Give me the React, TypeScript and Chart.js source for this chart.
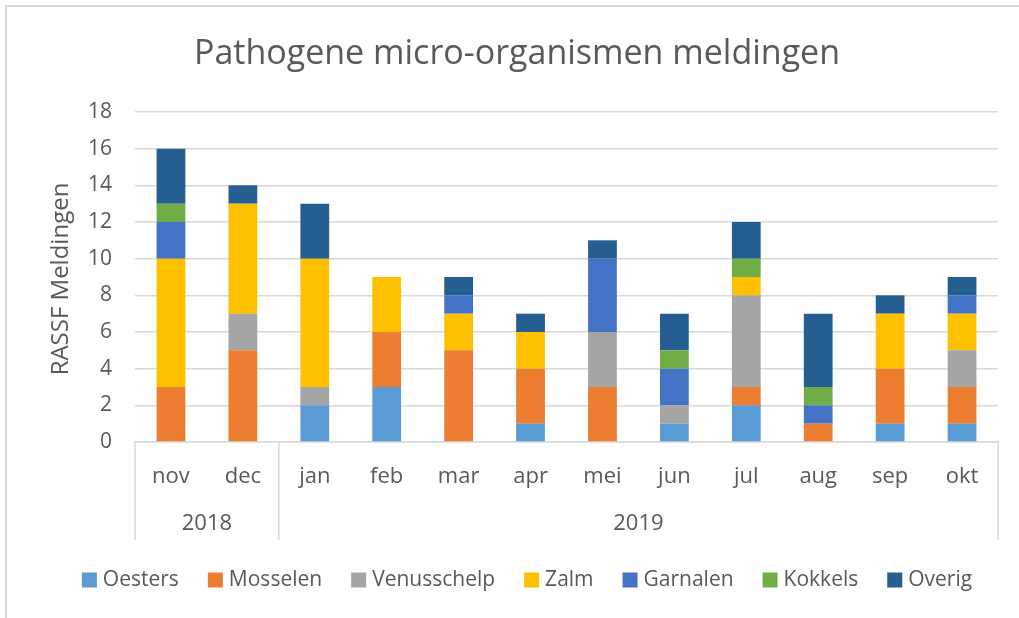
import React, { useEffect, useRef } from "react";
import { Chart, registerables } from "chart.js";

Chart.register(...registerables);

const chartTitle = "Pathogene micro-organismen meldingen";
const yAxisTitle = "RASSF Meldingen";
const months = ["nov", "dec", "jan", "feb", "mar", "apr", "mei", "jun", "jul", "aug", "sep", "okt"];
const years = ["2018", "2019"];
const yearSpans = [2, 10];
const yTicksMax = 18;
const yTickStep = 2;

const seriesNames = ["Oesters", "Mosselen", "Venusschelp", "Zalm", "Garnalen", "Kokkels", "Overig"];
const seriesColors = ["#5B9BD5", "#ED7D31", "#A5A5A5", "#FFC000", "#4472C4", "#70AD47", "#255E91"];

const oesters = [0, 0, 2, 3, 0, 1, 0, 1, 2, 0, 1, 1];
const mosselen = [3, 5, 0, 3, 5, 3, 3, 0, 1, 1, 3, 2];
const venusschelp = [0, 2, 1, 0, 0, 0, 3, 1, 5, 0, 0, 2];
const zalm = [7, 6, 7, 3, 2, 2, 0, 0, 1, 0, 3, 2];
const garnalen = [2, 0, 0, 0, 1, 0, 4, 2, 0, 1, 0, 1];
const kokkels = [1, 0, 0, 0, 0, 0, 0, 1, 1, 1, 0, 0];
const overig = [3, 1, 3, 0, 1, 1, 1, 2, 2, 4, 1, 1];

const seriesValues = [oesters, mosselen, venusschelp, zalm, garnalen, kokkels, overig];

const FONT = "'Open Sans', sans-serif";
const TEXT = "#595959";
const GRID = "#D9D9D9";

const decorPlugin = {
  id: "decor",
  afterDraw(chart: any) {
    const ctx = chart.ctx as CanvasRenderingContext2D;
    const x = chart.scales.x;
    ctx.save();

    // outer frame
    ctx.strokeStyle = GRID;
    ctx.lineWidth = 2;
    ctx.beginPath();
    ctx.moveTo(6, 700);
    ctx.lineTo(6, 6);
    ctx.lineTo(1100, 6);
    ctx.stroke();

    // title
    ctx.fillStyle = TEXT;
    ctx.font = `34px ${FONT}`;
    ctx.textAlign = "center";
    ctx.textBaseline = "middle";
    ctx.fillText(chartTitle, 517, 54);

    // y-axis title
    ctx.save();
    ctx.translate(61, 279);
    ctx.rotate(-Math.PI / 2);
    ctx.font = `24px ${FONT}`;
    ctx.fillText(yAxisTitle, 0, 0);
    ctx.restore();

    // group separators and year labels
    const n = months.length;
    const boundary = (i: number) => {
      if (i <= 0) return x.left;
      if (i >= n) return x.right;
      return (x.getPixelForValue(i - 1) + x.getPixelForValue(i)) / 2;
    };
    ctx.strokeStyle = GRID;
    ctx.lineWidth = 1.5;
    let start = 0;
    const yTop = x.top;
    const yBottom = x.top + 98;
    const drawSep = (px: number) => {
      ctx.beginPath();
      ctx.moveTo(px, yTop);
      ctx.lineTo(px, yBottom);
      ctx.stroke();
    };
    drawSep(boundary(0));
    ctx.font = `22px ${FONT}`;
    years.forEach((yr, k) => {
      const end = start + yearSpans[k];
      const a = boundary(start);
      const b = boundary(end);
      drawSep(b);
      ctx.fillText(yr, (a + b) / 2, 524);
      start = end;
    });

    // legend
    ctx.font = `21px ${FONT}`;
    ctx.textAlign = "left";
    const box = 15;
    const gapBox = 6;
    const gapItem = 29;
    const widths = seriesNames.map((s) => ctx.measureText(s).width);
    const total = widths.reduce((s, w) => s + box + gapBox + w, 0) + gapItem * (seriesNames.length - 1);
    let lx = 527 - total / 2;
    const ly = 580;
    seriesNames.forEach((s, i) => {
      ctx.fillStyle = seriesColors[i];
      ctx.fillRect(lx, ly - box / 2, box, box);
      ctx.fillStyle = TEXT;
      ctx.fillText(s, lx + box + gapBox, ly);
      lx += box + gapBox + widths[i] + gapItem;
    });

    ctx.restore();
  },
};

export default function App() {
  const ref = useRef<HTMLCanvasElement | null>(null);

  useEffect(() => {
    if (!ref.current) return;
    const chart = new Chart(ref.current, {
      type: "bar",
      data: {
        labels: months,
        datasets: seriesNames.map((name, i) => ({
          label: name,
          data: seriesValues[i],
          backgroundColor: seriesColors[i],
          borderWidth: 0,
          categoryPercentage: 0.8,
          barPercentage: 0.5,
        })),
      },
      options: {
        responsive: false,
        animation: false,
        layout: { padding: { left: 0, top: 112, right: 21, bottom: 76 } },
        plugins: {
          legend: { display: false },
          title: { display: false },
          tooltip: { enabled: false },
        },
        scales: {
          x: {
            stacked: true,
            grid: { display: false, drawTicks: false },
            border: { display: true, color: GRID, width: 1.5 },
            ticks: { color: TEXT, font: { family: FONT, size: 22 }, padding: 22, maxRotation: 0 },
            afterFit: (scale: any) => {
              scale.height = 100;
            },
          },
          y: {
            stacked: true,
            min: 0,
            max: yTicksMax,
            grid: { color: GRID, lineWidth: 1.5, drawTicks: false },
            border: { display: false },
            ticks: { stepSize: yTickStep, color: TEXT, font: { family: FONT, size: 21 }, padding: 23 },
            afterFit: (scale: any) => {
              scale.width = 135;
            },
          },
        },
      },
      plugins: [decorPlugin],
    });
    return () => chart.destroy();
  }, []);

  return (
    <div style={{ position: "absolute", left: 0, top: 0, width: 1019, height: 618, background: "#fff" }}>
      <canvas ref={ref} width={1019} height={618} style={{ display: "block" }} />
    </div>
  );
}
